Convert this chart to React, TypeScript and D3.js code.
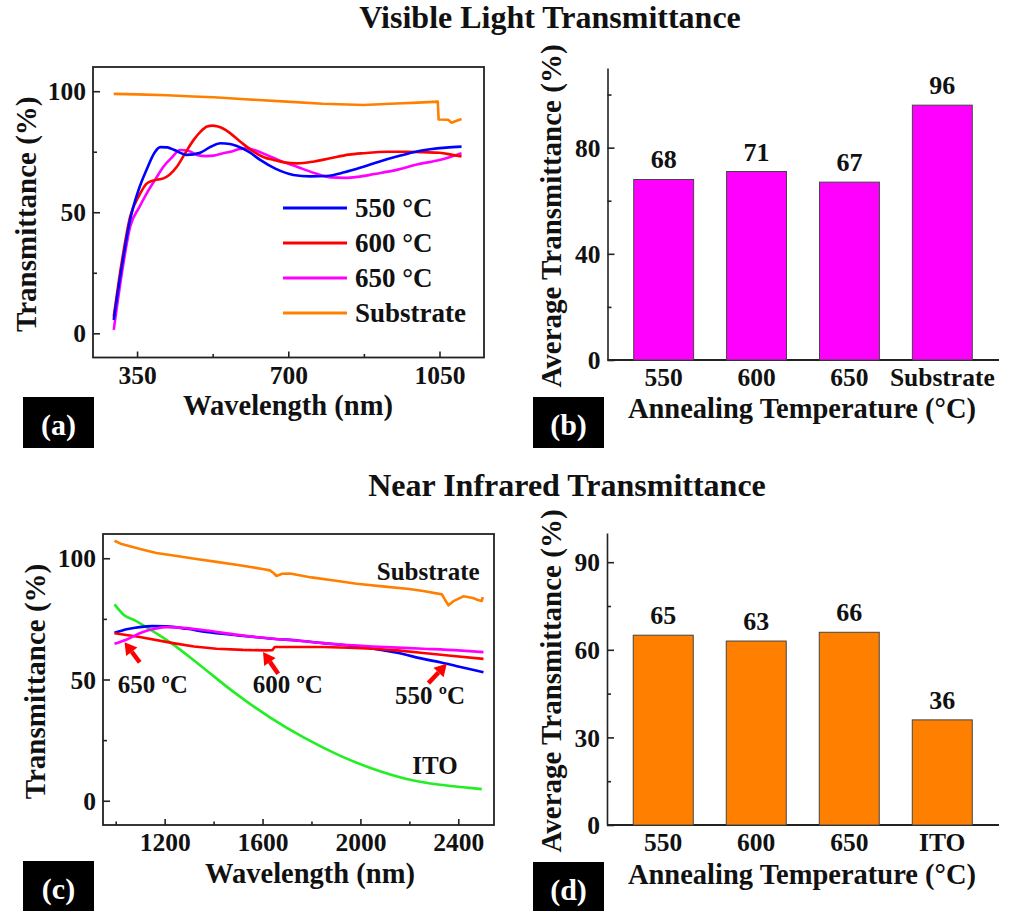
import { useEffect, useRef } from "react";
import * as d3 from "d3";

const W = 1011, H = 911;
const FONT = "'Liberation Serif', 'Times New Roman', serif";

// (a) visible spectra, [wavelength nm, transmittance %]
const vis550: [number, number][] = [
  [296, 5.5], [315, 28], [334, 47], [355, 60], [373, 68], [390, 74.5], [404, 76.9], [420, 76.8],
  [435, 75.8], [465, 73.7], [496, 74.6], [520, 77], [543, 78.5], [565, 78.2], [581, 77.4],
  [610, 74.8], [635, 71.6], [670, 68], [712, 65.4], [750, 64.8], [789, 65], [830, 66.5],
  [874, 68.8], [910, 70.9], [951, 73], [990, 74.8], [1028, 76], [1065, 76.7], [1101, 77.1],
];
const vis600: [number, number][] = [
  [296, 6.9], [315, 30], [334, 48.2], [355, 57], [373, 62], [390, 63.2], [411, 64], [425, 65.5],
  [442, 68.8], [460, 74], [481, 79.9], [497, 83.3], [512, 85.4], [525, 85.8], [535, 85.5],
  [550, 84.5], [566, 82.6], [590, 79], [620, 75], [645, 72.6], [666, 71.6], [690, 70.6],
  [720, 70.2], [760, 71], [797, 72.3], [840, 73.8], [874, 74.4], [930, 75], [974, 75],
  [1010, 74.8], [1050, 74.6], [1080, 73.7], [1101, 73],
];
const vis650: [number, number][] = [
  [296, 1.4], [315, 25], [334, 44], [355, 52], [373, 58], [392, 63.5], [411, 68.8], [430, 72.5],
  [450, 75.7], [470, 75.3], [488, 73.7], [510, 73.2], [527, 73.4], [545, 74.2], [566, 75],
  [585, 76], [604, 76.4], [625, 75.5], [650, 73.7], [685, 71], [720, 68.8], [760, 66.2],
  [797, 64.4], [830, 64.2], [860, 64.6], [900, 65.8], [951, 67.5], [1000, 69.8], [1050, 71.6],
  [1101, 74.4],
];
const visSub: [number, number][] = [
  [296, 98.9], [350, 98.7], [420, 98.3], [480, 97.8], [527, 97.5], [600, 96.7], [697, 95.7],
  [780, 94.8], [874, 94.3], [950, 94.9], [1000, 95.3], [1046, 95.7], [1048, 88.3], [1070, 88.2],
  [1078, 87.0], [1085, 87.5], [1101, 88.5],
];

// (c) near infrared spectra
const nir550: [number, number][] = [
  [995, 69.3], [1050, 70.8], [1098, 71.6], [1150, 72], [1207, 71.9], [1290, 70.9], [1371, 69.6],
  [1500, 68.2], [1643, 66.8], [1750, 66], [1848, 65], [1950, 64], [2053, 62.7], [2150, 61],
  [2257, 58.5], [2330, 57], [2394, 55.5], [2450, 54.2], [2503, 53],
];
const nir600: [number, number][] = [
  [995, 69.1], [1098, 67.5], [1234, 65], [1320, 63.6], [1412, 62.7], [1520, 62.2], [1616, 62],
  [1640, 62.1], [1650, 63.4], [1750, 63.4], [1848, 63.4], [1950, 63.1], [2053, 62.7], [2150, 62],
  [2257, 60.9], [2380, 59.7], [2503, 58.5],
];
const nir650: [number, number][] = [
  [995, 64.7], [1043, 66.4], [1111, 69.6], [1160, 70.9], [1207, 71.6], [1290, 71.2], [1371, 70.2],
  [1500, 68.4], [1643, 66.8], [1750, 66], [1848, 65], [1950, 64.2], [2053, 63.6], [2257, 62.7],
  [2400, 62], [2503, 61.3],
];
const nirSub: [number, number][] = [
  [995, 107.2], [1020, 106], [1043, 105.4], [1100, 103.8], [1166, 102.2], [1250, 100.9],
  [1316, 99.9], [1412, 98.5], [1500, 97.2], [1600, 95.6], [1630, 95], [1645, 93.9], [1657, 92.7],
  [1680, 93.6], [1712, 93.7], [1800, 92.1], [1900, 90.7], [1985, 89.5], [2100, 88.3],
  [2200, 87.3], [2257, 86.5], [2333, 85.1], [2345, 83], [2360, 80.6], [2380, 82.3], [2421, 84.3],
  [2460, 83.6], [2480, 82.8], [2496, 82.4], [2500, 84],
];
const nirITO: [number, number][] = [
  [995, 81], [1036, 76.4], [1080, 74.3], [1125, 71.6], [1234, 64.5], [1343, 56], [1480, 45],
  [1630, 34.4], [1766, 26.2], [1916, 18.6], [2053, 13.1], [2189, 9], [2326, 6.6], [2420, 5.6],
  [2496, 4.8],
];

// (b) and (d) averages
const visCats = ["550", "600", "650", "Substrate"];
const visAvg = [68, 71, 67, 96];
const nirCats = ["550", "600", "650", "ITO"];
const nirAvg = [65, 63, 66, 36];

// (c) callouts: label position and arrow tail/head in data units
const nirNotes = [
  { text: "650 ºC", at: [1151, 44.6], tail: [1098, 57.1], head: [1036, 65.4] },
  { text: "600 ºC", at: [1703, 44.6], tail: [1664, 52.4], head: [1602, 61.3] },
  { text: "550 ºC", at: [2285, 40], tail: [2278, 48.5], head: [2353, 56.5] },
];

const legendA = ["550 °C", "600 °C", "650 °C", "Substrate"];
const colors = { c550: "#0000ff", c600: "#ff0000", c650: "#ff00ff", sub: "#ff8000", ito: "#22ee22" };

type Sel = d3.Selection<SVGGElement, unknown, null, undefined>;

function styleText(sel: any, size: number, color = "#111") {
  sel.style("font-family", FONT).style("font-weight", "bold").style("font-size", size + "px").attr("fill", color);
}

function spectrumPanel(g: Sel, o: any) {
  const x = d3.scaleLinear().domain(o.xDomain).range([o.left, o.right]);
  const y = d3.scaleLinear().domain(o.yDomain).range([o.bottom, o.top]);

  const xa = g.append("g").attr("transform", `translate(0,${o.bottom})`)
    .call(d3.axisBottom(x).tickValues(o.xMajor).tickSize(-6).tickPadding(8).tickFormat(d3.format("d")));
  const xm = g.append("g").attr("transform", `translate(0,${o.bottom})`)
    .call(d3.axisBottom(x).tickValues(o.xMinor).tickSize(-3.5).tickFormat(() => ""));
  const ya = g.append("g").attr("transform", `translate(${o.left},0)`)
    .call(d3.axisLeft(y).tickValues(o.yMajor).tickSize(-7).tickPadding(7).tickFormat(d3.format("d")));
  const ym = g.append("g").attr("transform", `translate(${o.left},0)`)
    .call(d3.axisLeft(y).tickValues(o.yMinor).tickSize(-4).tickFormat(() => ""));
  [xa, xm, ya, ym].forEach(a => {
    a.select(".domain").remove();
    a.selectAll("line").attr("stroke", "#222").attr("stroke-width", 1.6);
    styleText(a.selectAll("text"), 25.5);
  });
  ya.selectAll("text").attr("dy", "0.34em");

  g.append("rect").attr("x", o.left).attr("y", o.top)
    .attr("width", o.right - o.left).attr("height", o.bottom - o.top)
    .attr("fill", "none").attr("stroke", "#222").attr("stroke-width", 1.8);

  o.series.forEach((s: any) => {
    const line = d3.line<[number, number]>().x(d => x(d[0])).y(d => y(d[1]))
      .curve(s.smooth ? d3.curveMonotoneX : d3.curveLinear);
    g.append("path").datum(s.data).attr("d", line).attr("fill", "none")
      .attr("stroke", s.color).attr("stroke-width", 2.6).attr("stroke-linejoin", "round");
  });

  styleText(g.append("text").attr("x", o.xlabelX).attr("y", o.xlabelY).attr("text-anchor", "middle")
    .text("Wavelength (nm)"), 28.5);
  styleText(g.append("text").attr("transform", `translate(${o.ylabelX},${(o.top + o.bottom) / 2 + 2}) rotate(-90)`)
    .attr("text-anchor", "middle").attr("dy", "0.35em").text("Transmittance (%)"), 29);
  return { x, y };
}

function barPanel(g: Sel, o: any) {
  const x = d3.scaleBand().domain(o.cats).range([o.axisX + 9.5, o.right - 10]).paddingInner(0.355).paddingOuter(0.18);
  const y = d3.scaleLinear().domain(o.yDomain).range([o.bottom, o.top]);

  const ya = g.append("g").attr("transform", `translate(${o.axisX},0)`)
    .call(d3.axisLeft(y).tickValues(o.yMajor).tickSize(-7).tickSizeOuter(0).tickPadding(7).tickFormat(d3.format("d")));
  const ym = g.append("g").attr("transform", `translate(${o.axisX},0)`)
    .call(d3.axisLeft(y).tickValues(o.yMinor).tickSize(-4).tickFormat(() => ""));
  ym.select(".domain").remove();
  [ya, ym].forEach(a => {
    a.selectAll("line,path").attr("stroke", "#222").attr("stroke-width", 1.6);
    styleText(a.selectAll("text"), 25.5);
  });
  ya.selectAll("text").attr("dy", "0.34em");

  const xa = g.append("g").attr("transform", `translate(0,${o.bottom})`)
    .call(d3.axisBottom(x).tickSize(0).tickPadding(8));
  xa.select(".domain").remove();
  styleText(xa.selectAll("text"), 25.5);
  g.append("line").attr("x1", o.axisX).attr("x2", o.right).attr("y1", o.bottom).attr("y2", o.bottom)
    .attr("stroke", "#222").attr("stroke-width", 1.8);

  g.selectAll(".bar").data(o.values as number[]).enter().append("rect")
    .attr("x", (_, i) => x(o.cats[i])!).attr("width", x.bandwidth())
    .attr("y", d => y(d)).attr("height", d => o.bottom - y(d))
    .attr("fill", o.color).attr("stroke", "#444").attr("stroke-width", 1);

  styleText(g.selectAll(".val").data(o.values as number[]).enter().append("text")
    .attr("x", (_, i) => x(o.cats[i])! + x.bandwidth() / 2).attr("y", d => y(d) - 11)
    .attr("text-anchor", "middle").text(d => d), 26);

  styleText(g.append("text").attr("x", o.xlabelX).attr("y", o.xlabelY).attr("text-anchor", "middle")
    .text("Annealing Temperature (°C)"), 28.5);
  styleText(g.append("text").attr("transform", `translate(${o.ylabelX},${(o.top + o.bottom) / 2 + 2}) rotate(-90)`)
    .attr("text-anchor", "middle").attr("dy", "0.35em").text("Average Transmittance (%)"), 29);
}

function panelTag(g: Sel, x: number, y: number, h: number, label: string) {
  g.append("rect").attr("x", x).attr("y", y).attr("width", 71).attr("height", h).attr("fill", "#000");
  styleText(g.append("text").attr("x", x + 35.5).attr("y", y + 38).attr("text-anchor", "middle").text(label), 30, "#fff");
}

export default function App() {
  const ref = useRef<SVGSVGElement>(null);

  useEffect(() => {
    const svg = d3.select(ref.current);
    svg.selectAll("*").remove();
    const g = svg.append("g") as unknown as Sel;

    styleText(g.append("text").attr("x", 550).attr("y", 28).attr("text-anchor", "middle")
      .text("Visible Light Transmittance"), 32);
    styleText(g.append("text").attr("x", 567).attr("y", 496).attr("text-anchor", "middle")
      .text("Near Infrared Transmittance"), 32);

    // (a)
    spectrumPanel(g, {
      left: 93, right: 484, top: 67, bottom: 357.5,
      xDomain: [248, 1153], yDomain: [-10, 110],
      xMajor: [350, 700, 1050], xMinor: [525, 875],
      yMajor: [0, 50, 100], yMinor: [25, 75],
      series: [
        { data: visSub, color: colors.sub, smooth: false },
        { data: vis650, color: colors.c650, smooth: true },
        { data: vis600, color: colors.c600, smooth: true },
        { data: vis550, color: colors.c550, smooth: true },
      ],
      xlabelX: 288, xlabelY: 415, ylabelX: 26,
    });
    const legColors = [colors.c550, colors.c600, colors.c650, colors.sub];
    legendA.forEach((t, i) => {
      const ly = 208 + i * 35;
      g.append("line").attr("x1", 283).attr("x2", 347).attr("y1", ly).attr("y2", ly)
        .attr("stroke", legColors[i]).attr("stroke-width", 2.8);
      styleText(g.append("text").attr("x", 355).attr("y", ly).attr("dy", "0.35em").text(t), 27);
    });
    panelTag(g, 23, 397, 51, "(a)");

    // (b)
    barPanel(g, {
      axisX: 607.5, right: 999, top: 68, bottom: 360,
      yDomain: [0, 110], yMajor: [0, 40, 80], yMinor: [20, 60, 100],
      cats: visCats, values: visAvg, color: "#ff00ff",
      xlabelX: 802, xlabelY: 418, ylabelX: 551,
    });
    panelTag(g, 533, 397, 51, "(b)");

    // (c)
    const { x: xc, y: yc } = spectrumPanel(g, {
      left: 103, right: 494, top: 534, bottom: 825,
      xDomain: [948, 2546], yDomain: [-10, 110],
      xMajor: [1200, 1600, 2000, 2400], xMinor: [1000, 1400, 1800, 2200],
      yMajor: [0, 50, 100], yMinor: [25, 75],
      series: [
        { data: nirSub, color: colors.sub, smooth: false },
        { data: nirITO, color: colors.ito, smooth: true },
        { data: nir550, color: colors.c550, smooth: true },
        { data: nir600, color: colors.c600, smooth: false },
        { data: nir650, color: colors.c650, smooth: true },
      ],
      xlabelX: 310, xlabelY: 883, ylabelX: 35,
    });
    nirNotes.forEach(n => {
      const x1 = xc(n.tail[0]), y1 = yc(n.tail[1]), x2 = xc(n.head[0]), y2 = yc(n.head[1]);
      const a = Math.atan2(y2 - y1, x2 - x1), L = 12, w = 7;
      const bx = x2 - L * Math.cos(a), by = y2 - L * Math.sin(a);
      g.append("line").attr("x1", x1).attr("y1", y1).attr("x2", bx).attr("y2", by)
        .attr("stroke", "#ff0000").attr("stroke-width", 4.5);
      g.append("polygon").attr("fill", "#ff0000").attr("points", [
        [x2, y2], [bx + w * Math.sin(a), by - w * Math.cos(a)], [bx - w * Math.sin(a), by + w * Math.cos(a)],
      ].map(p => p.join(",")).join(" "));
      styleText(g.append("text").attr("x", xc(n.at[0])).attr("y", yc(n.at[1])).attr("text-anchor", "middle").text(n.text), 25);
    });
    styleText(g.append("text").attr("x", xc(2277)).attr("y", yc(90.9)).attr("text-anchor", "middle").text("Substrate"), 25);
    styleText(g.append("text").attr("x", xc(2305)).attr("y", yc(11.2)).attr("text-anchor", "middle").text("ITO"), 25);
    panelTag(g, 23, 861, 60, "(c)");

    // (d)
    barPanel(g, {
      axisX: 607, right: 999, top: 533, bottom: 825,
      yDomain: [0, 100], yMajor: [0, 30, 60, 90], yMinor: [15, 45, 75],
      cats: nirCats, values: nirAvg, color: "#ff8000",
      xlabelX: 802, xlabelY: 884, ylabelX: 551,
    });
    panelTag(g, 533, 862, 60, "(d)");
  }, []);

  return (
    <svg ref={ref} width={W} height={H}
      style={{ position: "absolute", left: 0, top: 0, background: "#fff" }} />
  );
}
